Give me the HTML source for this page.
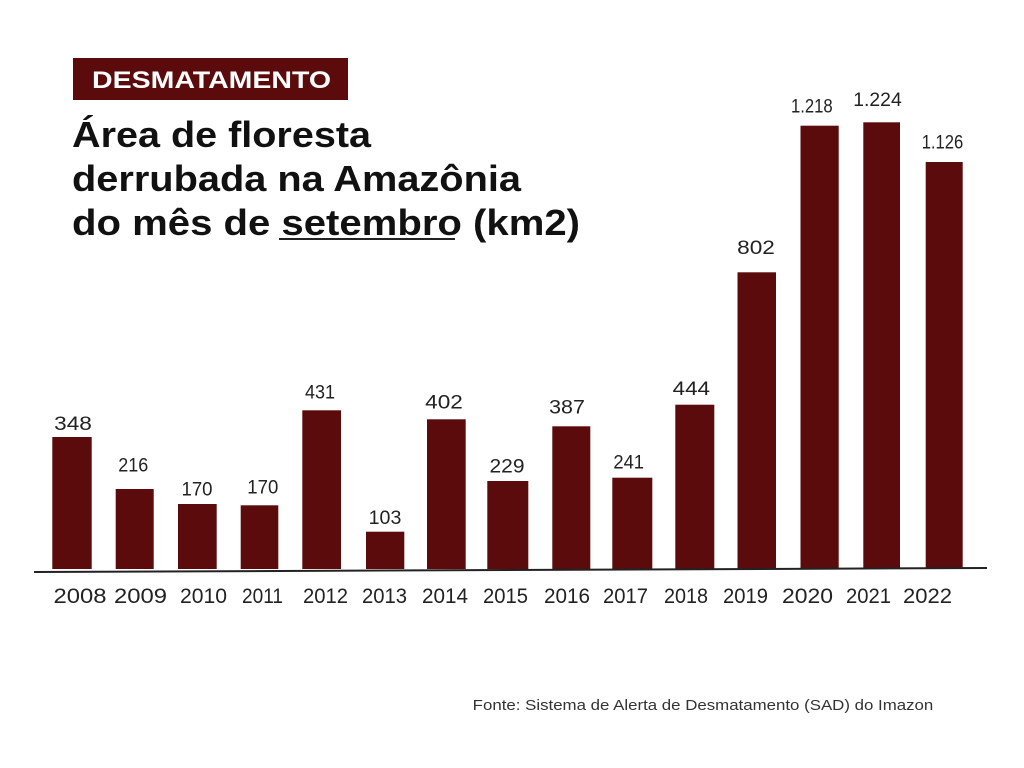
<!DOCTYPE html>
<html>
<head>
<meta charset="utf-8">
<style>
  html,body{margin:0;padding:0;background:#fff;}
  svg{display:block;}
  text{font-family:"Liberation Sans",Arial,sans-serif;}
</style>
</head>
<body>
<svg width="1024" height="768" viewBox="0 0 1024 768" xmlns="http://www.w3.org/2000/svg">
  <rect x="0" y="0" width="1024" height="768" fill="#ffffff"/>

  <!-- Header tag -->
  <rect x="73" y="58" width="275" height="42" fill="#5b0b0b"/>
  <text x="92" y="88" font-size="24" font-weight="bold" fill="#ffffff" textLength="239" lengthAdjust="spacingAndGlyphs">DESMATAMENTO</text>

  <!-- Title -->
  <g fill="#111111" font-weight="bold" font-size="36">
    <text x="72" y="147" textLength="299" lengthAdjust="spacingAndGlyphs">Área de floresta</text>
    <text x="72" y="191" textLength="449" lengthAdjust="spacingAndGlyphs">derrubada na Amazônia</text>
    <text x="72" y="235" textLength="508" lengthAdjust="spacingAndGlyphs">do mês de setembro (km2)</text>
  </g>
  <rect x="279" y="238" width="176" height="2" fill="#222222"/>

  <!-- Bars -->
  <g fill="#5b0b0b">
    <rect x="52.3" y="437" width="39.4" height="132"/>
    <rect x="115.7" y="489" width="38" height="80"/>
    <rect x="178" y="504" width="38.7" height="65"/>
    <rect x="240.7" y="505.3" width="37.6" height="63.7"/>
    <rect x="302.3" y="410.3" width="38.7" height="158.7"/>
    <rect x="366" y="531.7" width="38.3" height="37.3"/>
    <rect x="427" y="419.3" width="38.7" height="149.7"/>
    <rect x="487.3" y="481" width="41" height="88"/>
    <rect x="552.3" y="426.3" width="38" height="142.7"/>
    <rect x="612.3" y="477.7" width="40" height="91.3"/>
    <rect x="675.3" y="404.7" width="39" height="164.3"/>
    <rect x="737.5" y="272.3" width="38.5" height="296.7"/>
    <rect x="800.5" y="125.7" width="38.2" height="443.3"/>
    <rect x="863.3" y="122.3" width="36.7" height="446.7"/>
    <rect x="925.7" y="162" width="37" height="407"/>
  </g>

  <!-- Axis line -->
  <line x1="34" y1="572" x2="987" y2="568" stroke="#222222" stroke-width="2"/>

  <!-- Value labels -->
  <g fill="#222222" font-size="19" text-anchor="middle">
    <text x="73" y="430" textLength="37.7" lengthAdjust="spacingAndGlyphs">348</text>
    <text x="133.3" y="471.7" textLength="30" lengthAdjust="spacingAndGlyphs">216</text>
    <text x="197" y="495.7" textLength="31" lengthAdjust="spacingAndGlyphs">170</text>
    <text x="262.8" y="493.3" textLength="31" lengthAdjust="spacingAndGlyphs">170</text>
    <text x="320" y="398.3" textLength="30" lengthAdjust="spacingAndGlyphs">431</text>
    <text x="385" y="524" textLength="32.7" lengthAdjust="spacingAndGlyphs">103</text>
    <text x="444" y="408.3" textLength="37.7" lengthAdjust="spacingAndGlyphs">402</text>
    <text x="507" y="472.7" textLength="35" lengthAdjust="spacingAndGlyphs">229</text>
    <text x="567" y="413.3" textLength="35.7" lengthAdjust="spacingAndGlyphs">387</text>
    <text x="628.7" y="468.3" textLength="30.7" lengthAdjust="spacingAndGlyphs">241</text>
    <text x="691.3" y="395" textLength="37.3" lengthAdjust="spacingAndGlyphs">444</text>
    <text x="756" y="254" textLength="37.7" lengthAdjust="spacingAndGlyphs">802</text>
    <text x="811.8" y="112.7" textLength="41.7" lengthAdjust="spacingAndGlyphs">1.218</text>
    <text x="877.5" y="106" textLength="48.4" lengthAdjust="spacingAndGlyphs">1.224</text>
    <text x="942.5" y="148.3" textLength="41.6" lengthAdjust="spacingAndGlyphs">1.126</text>
  </g>

  <!-- Year labels -->
  <g fill="#222222" font-size="21" text-anchor="middle">
    <text x="80" y="603" textLength="53" lengthAdjust="spacingAndGlyphs">2008</text>
    <text x="140.5" y="603" textLength="53" lengthAdjust="spacingAndGlyphs">2009</text>
    <text x="203.5" y="603" textLength="47" lengthAdjust="spacingAndGlyphs">2010</text>
    <text x="262.5" y="603" textLength="41" lengthAdjust="spacingAndGlyphs">2011</text>
    <text x="325.5" y="603" textLength="45" lengthAdjust="spacingAndGlyphs">2012</text>
    <text x="384.5" y="603" textLength="45" lengthAdjust="spacingAndGlyphs">2013</text>
    <text x="445" y="603" textLength="46" lengthAdjust="spacingAndGlyphs">2014</text>
    <text x="505.5" y="603" textLength="45" lengthAdjust="spacingAndGlyphs">2015</text>
    <text x="567" y="603" textLength="46" lengthAdjust="spacingAndGlyphs">2016</text>
    <text x="625.5" y="603" textLength="45" lengthAdjust="spacingAndGlyphs">2017</text>
    <text x="686" y="603" textLength="44" lengthAdjust="spacingAndGlyphs">2018</text>
    <text x="745.5" y="603" textLength="45" lengthAdjust="spacingAndGlyphs">2019</text>
    <text x="807.5" y="603" textLength="51" lengthAdjust="spacingAndGlyphs">2020</text>
    <text x="868.5" y="603" textLength="45" lengthAdjust="spacingAndGlyphs">2021</text>
    <text x="927.5" y="603" textLength="49" lengthAdjust="spacingAndGlyphs">2022</text>
  </g>

  <!-- Source -->
  <text x="472.7" y="710" font-size="15" fill="#333333" textLength="460.6" lengthAdjust="spacingAndGlyphs">Fonte: Sistema de Alerta de Desmatamento (SAD) do Imazon</text>
</svg>
</body>
</html>
